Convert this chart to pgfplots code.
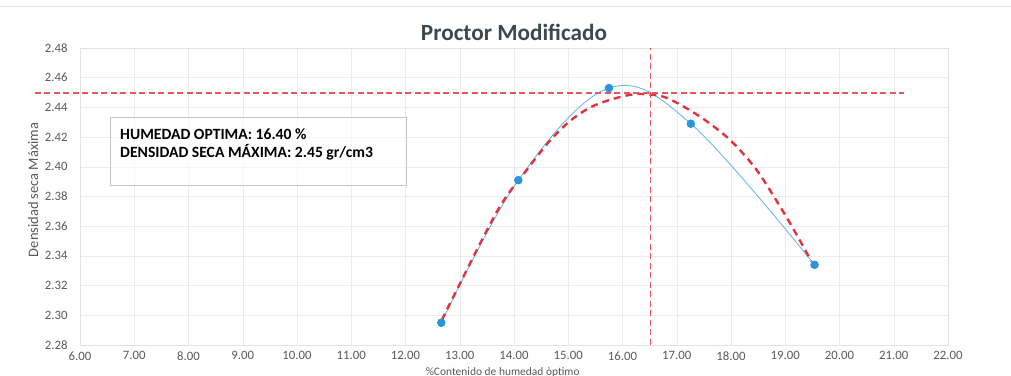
\documentclass[border=0pt]{standalone}
\usepackage{fontspec}
\setmainfont{Carlito}
\usepackage{pgfplots}
\pgfplotsset{compat=1.18}
\definecolor{ptblue}{RGB}{41,150,218}
\definecolor{lnblue}{RGB}{105,188,226}
\definecolor{trred}{RGB}{226,50,60}
\definecolor{refred}{RGB}{232,85,95}
\definecolor{tickgray}{RGB}{89,89,89}
\definecolor{titlegray}{RGB}{62,72,78}
\begin{document}
\begin{tikzpicture}
\begin{axis}[
  scale only axis, width=868bp, height=297bp,
  xmin=6, xmax=22, ymin=2.28, ymax=2.48,
  xtick={6,7,8,9,10,11,12,13,14,15,16,17,18,19,20,21,22},
  ytick={2.28,2.30,2.32,2.34,2.36,2.38,2.40,2.42,2.44,2.46,2.48},
  ticklabel style={font=\fontsize{12.8}{14}\selectfont, text=tickgray},
  xticklabel style={yshift=-3bp, /pgf/number format/fixed, /pgf/number format/fixed zerofill, /pgf/number format/precision=2},
  yticklabel style={xshift=-9bp, /pgf/number format/fixed, /pgf/number format/fixed zerofill, /pgf/number format/precision=2},
  /pgf/number format/assume math mode=true,
  grid=major, major grid style={draw=gray!15, line width=0.5pt},
  axis line style={draw=gray!22},
  major tick length=0pt,
  clip=false,
]
% measured data
\addplot[lnblue, line width=0.9pt, smooth, tension=0.6, mark=*, mark size=3.8bp,
  mark options={draw=ptblue, fill=ptblue}]
  coordinates {(12.66,2.295) (14.08,2.391) (15.75,2.453) (17.26,2.429) (19.54,2.334)};
% trend line
\addplot[trred, line width=2.4pt, dash pattern=on 7bp off 5bp, smooth]
  coordinates {(12.67,2.2968) (13.68,2.3695) (14.29,2.4005) (14.66,2.4175) (15.02,2.4305)
   (15.39,2.4397) (15.76,2.4450) (16.13,2.4484) (16.37,2.4490) (16.81,2.4465)
   (17.42,2.4340) (17.97,2.4185) (18.47,2.3980) (18.95,2.3705) (19.26,2.3510) (19.48,2.3365)};
% reference lines
\addplot[refred, line width=1.1pt, dash pattern=on 6bp off 3.5bp]
  coordinates {(5.17,2.4497) (21.19,2.4497)};
\addplot[refred, line width=1.1pt, dash pattern=on 6bp off 3.5bp]
  coordinates {(16.52,2.28) (16.52,2.48)};
% annotation box
\draw[gray!45, line width=0.5pt, fill=white, fill opacity=0.6]
  (rel axis cs:0.0346,0.5387) rectangle (rel axis cs:0.3756,0.7677);
\node[anchor=west, inner sep=0pt, font=\fontsize{15.7}{18}\selectfont\bfseries, text=black]
  at (rel axis cs:0.0461,0.7104) {HUMEDAD OPTIMA: 16.40 \%};
\node[anchor=west, inner sep=0pt, font=\fontsize{15.7}{18}\selectfont\bfseries, text=black]
  at (rel axis cs:0.0461,0.6480) {DENSIDAD SECA MÁXIMA: 2.45 gr/cm3};
% titles
\node[font=\fontsize{23.3}{26}\selectfont\bfseries, text=titlegray]
  at (rel axis cs:0.5,1.052) {Proctor Modificado};
\node[font=\fontsize{11.5}{13}\selectfont, text=tickgray]
  at (rel axis cs:0.487,-0.0909) {\%Contenido de humedad òptimo};
\node[font=\fontsize{14.5}{16}\selectfont, text=tickgray, rotate=90]
  at (rel axis cs:-0.0541,0.522) {Densidad seca Máxima};
\draw[gray!22, line width=0.6pt] (rel axis cs:-0.0922,1.1414) -- (rel axis cs:1.0726,1.1414);
\coordinate (bbl) at (rel axis cs:-0.09217,-0.10438);
\coordinate (btr) at (rel axis cs:1.07258,1.16162);
\end{axis}
\pgfresetboundingbox
\path (bbl) rectangle (btr);
\end{tikzpicture}
\end{document}
